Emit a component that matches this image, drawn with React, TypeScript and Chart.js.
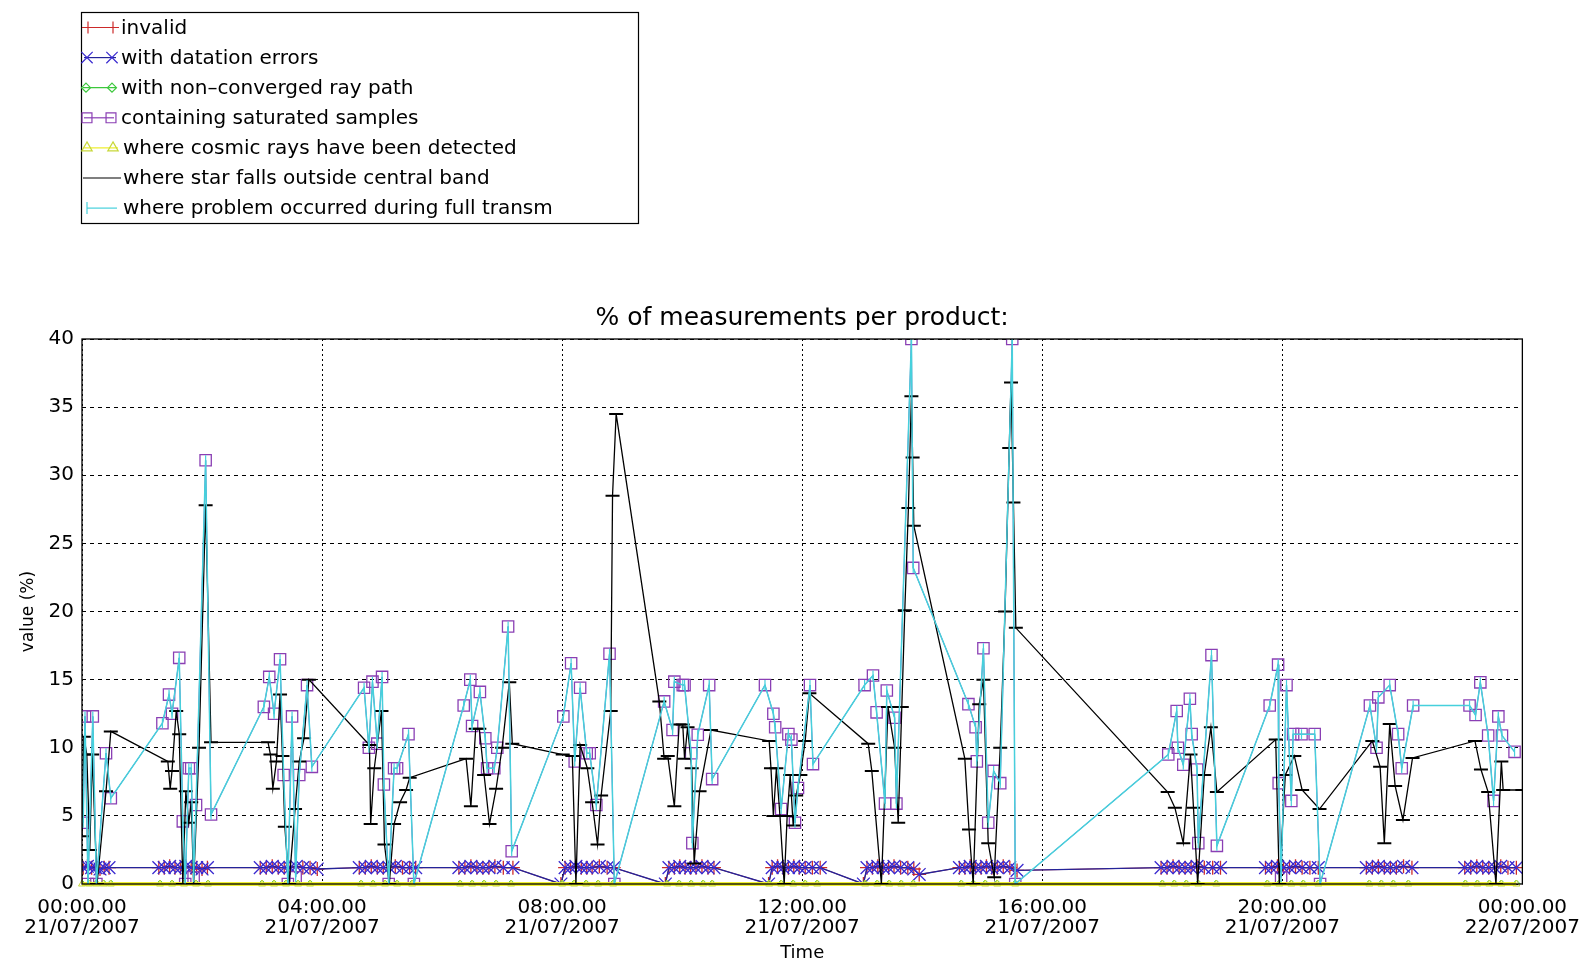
import React, { useEffect, useRef } from 'react';
import { Chart, registerables } from 'chart.js';

Chart.register(...registerables);

// ---------- data (time in hours of 21/07/2007, values in %) ----------
// "containing saturated samples" and "where problem occurred during full transm" share the same readings
const satTimes = [
  0.02, 0.05, 0.10, 0.18, 0.24, 0.40, 0.48,
  1.34, 1.45, 1.50, 1.62, 1.68, 1.72, 1.78, 1.82, 1.86, 1.90, 2.06, 2.15,
  3.03, 3.12, 3.20, 3.30, 3.36, 3.43, 3.50, 3.56, 3.62, 3.75, 3.83,
  4.70, 4.78, 4.84, 4.92, 5.00, 5.03, 5.11, 5.20, 5.25, 5.44, 5.53,
  6.36, 6.47, 6.50, 6.63, 6.72, 6.75, 6.87, 6.92, 7.10, 7.16,
  8.02, 8.15, 8.21, 8.30, 8.41, 8.46, 8.57, 8.79, 8.87,
  9.70, 9.84, 9.87, 10.01, 10.04, 10.15, 10.17, 10.26, 10.45, 10.50,
  11.38, 11.52, 11.55, 11.65, 11.77, 11.82, 11.88, 11.93, 12.13, 12.18,
  13.04, 13.18, 13.24, 13.38, 13.41, 13.54, 13.57, 13.82, 13.85,
  14.77, 14.89, 14.91, 15.02, 15.10, 15.19, 15.30, 15.50, 15.55,
  18.10, 18.24, 18.26, 18.35, 18.46, 18.49, 18.58, 18.60, 18.82, 18.91,
  19.79, 19.93, 19.94, 19.98, 20.07, 20.15, 20.18, 20.32, 20.54, 20.63,
  21.46, 21.57, 21.60, 21.79, 21.93, 21.99, 22.18,
  23.12, 23.22, 23.30, 23.43, 23.52, 23.60, 23.66, 23.87,
];
const satValues = [
  4.5, 12.3, 0, 12.3, 0, 9.6, 6.3,
  11.8, 13.9, 12.5, 16.6, 4.6, 0, 8.5, 8.5, 0.5, 5.8, 31.1, 5.1,
  13.0, 15.2, 12.5, 16.5, 8.0, 0, 12.3, 0.5, 8.0, 14.6, 8.6,
  14.4, 10.0, 14.85, 10.3, 15.2, 7.3, 0, 8.5, 8.5, 11.0, 0,
  13.1, 15.0, 11.6, 14.1, 10.7, 8.5, 8.5, 10.0, 18.9, 2.4,
  12.3, 16.2, 9.0, 14.4, 9.6, 9.6, 5.8, 16.9, 0,
  13.4, 11.3, 14.85, 14.6, 14.6, 9.6, 3.0, 10.95, 14.6, 7.7,
  14.6, 12.5, 11.5, 5.5, 11.0, 10.6, 4.5, 7.05, 14.6, 8.8,
  14.6, 15.3, 12.6, 5.9, 14.2, 12.2, 5.9, 40, 23.2,
  13.2, 11.5, 9.0, 17.3, 4.5, 8.3, 7.4, 40, 0,
  9.5, 12.7, 10.0, 8.75, 13.6, 11.0, 8.4, 3.0, 16.8, 2.8,
  13.1, 16.1, 7.4, 0.5, 14.6, 6.1, 11.0, 11.0, 11.0, 0,
  13.1, 10.0, 13.7, 14.6, 11.0, 8.5, 13.1,
  13.1, 12.4, 14.8, 10.9, 6.1, 12.3, 10.9, 9.7,
];

// "where star falls outside central band"
const starTimes = [
  0.00, 0.03, 0.08, 0.13, 0.17, 0.25, 0.40, 0.48,
  1.43, 1.47, 1.50, 1.57, 1.62, 1.68, 1.73, 1.78, 1.82, 1.86, 1.95, 2.06, 2.15,
  3.10, 3.14, 3.18, 3.24, 3.30, 3.34, 3.38, 3.45, 3.55, 3.62, 3.70, 3.78,
  4.79, 4.81, 4.87, 4.99, 5.04, 5.12, 5.20, 5.30, 5.40, 5.46,
  6.40, 6.48, 6.56, 6.62, 6.70, 6.79, 6.90, 7.00, 7.12, 7.17,
  8.01, 8.17, 8.23, 8.30, 8.42, 8.50, 8.59, 8.65, 8.81, 8.84, 8.90, 9.62,
  9.70, 9.76, 9.87, 9.95, 10.01, 10.04, 10.09, 10.16, 10.20, 10.29, 10.48,
  11.45, 11.48, 11.52, 11.57, 11.63, 11.70, 11.75, 11.80, 11.85, 11.90, 11.97, 12.05, 12.12,
  13.10, 13.16, 13.32, 13.43, 13.54, 13.60, 13.66, 13.71, 13.77, 13.82, 13.84, 13.86,
  14.71, 14.78, 14.85, 14.95, 15.02, 15.10, 15.20, 15.30, 15.38, 15.45, 15.48, 15.52, 15.56,
  18.09, 18.21, 18.35, 18.47, 18.52, 18.59, 18.70, 18.81, 18.91,
  19.89, 19.95, 20.05, 20.20, 20.33, 20.62,
  21.50, 21.63, 21.70, 21.79, 21.88, 22.01, 22.17,
  23.21, 23.31, 23.43, 23.56, 23.65, 23.68, 24.00,
];
const starValues = [
  3.5, 10.8, 9.5, 2.5, 9.5, 0, 6.8, 11.2,
  9.0, 7.0, 8.3, 12.7, 11.0, 0, 6.8, 4.5, 6.0, 0, 10.0, 27.8, 10.4,
  10.4, 9.5, 7.0, 9.0, 13.9, 9.4, 4.2, 0, 5.5, 9.0, 10.7, 15.0,
  10.2, 4.4, 8.5, 12.7, 2.9, 0, 4.4, 6.0, 6.9, 7.8,
  9.2, 5.7, 11.4, 11.4, 8.0, 4.4, 7.0, 10.0, 14.8, 10.3,
  9.5, 9.4, 0, 10.2, 8.5, 6.0, 2.9, 6.5, 12.7, 28.5, 34.5, 13.4,
  9.2, 9.4, 5.7, 11.7, 11.7, 9.2, 11.5, 8.5, 1.5, 6.8, 11.3,
  10.5, 8.5, 5.0, 8.5, 5.0, 0, 5.0, 8.0, 4.3, 6.5, 8.0, 10.5, 14.0,
  10.3, 8.3, 0, 13.0, 10.0, 4.5, 13.0, 20.1, 27.6, 35.8, 31.3, 26.3,
  9.2, 4.0, 0, 13.2, 15.0, 3.0, 0.5, 10.0, 20.0, 32.0, 36.8, 28.0, 18.8,
  6.75, 5.6, 3.0, 9.5, 5.6, 0, 8.0, 11.5, 6.75,
  10.6, 0, 8.0, 9.4, 6.9, 5.5,
  10.5, 8.6, 3.0, 11.75, 7.2, 4.7, 9.25,
  10.5, 8.4, 6.75, 0, 9.0, 6.9, 6.9,
];

// "with datation errors" and "invalid"
const datTimes = [
  0.02, 0.09, 0.16, 0.23, 0.30, 0.37, 0.45,
  1.28, 1.37, 1.46, 1.55, 1.64, 1.73, 1.82, 1.91, 2.00, 2.09,
  2.97, 3.07, 3.17, 3.27, 3.37, 3.47, 3.57, 3.68, 3.80, 3.92,
  4.62, 4.72, 4.82, 4.92, 5.02, 5.12, 5.22, 5.34, 5.46, 5.56,
  6.28, 6.38, 6.48, 6.58, 6.68, 6.78, 6.88, 7.02, 7.18,
  7.98, 8.05, 8.14, 8.23, 8.32, 8.41, 8.50, 8.62, 8.75, 8.86,
  9.72, 9.78, 9.87, 9.96, 10.05, 10.14, 10.23, 10.33, 10.43, 10.53,
  11.44, 11.50, 11.59, 11.68, 11.77, 11.86, 11.95, 12.05, 12.17, 12.30,
  13.02, 13.08, 13.17, 13.26, 13.35, 13.44, 13.53, 13.64, 13.76, 13.86, 13.95,
  14.62, 14.71, 14.80, 14.89, 14.98, 15.07, 15.16, 15.25, 15.35, 15.46, 15.58,
  17.98, 18.08, 18.18, 18.28, 18.38, 18.48, 18.58, 18.70, 18.84, 18.97,
  19.72, 19.82, 19.92, 20.02, 20.12, 20.22, 20.33, 20.46, 20.60,
  21.40, 21.50, 21.60, 21.70, 21.80, 21.90, 22.02, 22.16,
  23.04, 23.14, 23.24, 23.34, 23.44, 23.54, 23.64, 23.76, 23.90,
];
const datValues = [
  1.2, 1.3, 1.2, 1.2, 1.1, 1.2, 1.2,
  1.2, 1.2, 1.3, 1.2, 1.2, 1.3, 1.2, 1.2, 1.1, 1.2,
  1.2, 1.2, 1.3, 1.2, 1.2, 1.2, 1.3, 1.2, 1.2, 1.1,
  1.2, 1.2, 1.3, 1.2, 1.2, 1.2, 1.3, 1.2, 1.2, 1.2,
  1.2, 1.2, 1.3, 1.2, 1.2, 1.2, 1.3, 1.2, 1.2,
  0, 1.2, 1.2, 1.3, 1.2, 1.2, 1.2, 1.3, 1.2, 1.2,
  0, 1.2, 1.2, 1.3, 1.2, 1.2, 1.2, 1.3, 1.2, 1.2,
  0, 1.2, 1.3, 1.2, 1.2, 1.3, 1.2, 1.2, 1.2, 1.2,
  0, 1.2, 1.2, 1.3, 1.2, 1.2, 1.3, 1.2, 1.2, 1.1, 0.7,
  1.2, 1.2, 1.3, 1.2, 1.2, 1.3, 1.2, 1.2, 1.3, 1.2, 1.0,
  1.2, 1.2, 1.3, 1.2, 1.2, 1.2, 1.3, 1.2, 1.2, 1.2,
  1.2, 1.2, 1.3, 1.2, 1.2, 1.3, 1.2, 1.2, 1.2,
  1.2, 1.2, 1.3, 1.2, 1.2, 1.2, 1.3, 1.2,
  1.2, 1.2, 1.3, 1.2, 1.2, 1.2, 1.3, 1.2, 1.2,
];
const invalidValues = [
  1.2, 1.3, 1.2, 1.2, 1.1, 1.2, 1.2,
  1.2, 1.2, 1.3, 1.2, 1.2, 1.3, 1.2, 1.2, 1.1, 1.2,
  1.2, 1.2, 1.3, 1.2, 1.2, 1.2, 1.3, 1.2, 1.2, 1.1,
  1.2, 1.2, 1.3, 1.2, 1.2, 1.2, 1.3, 1.2, 1.2, 1.2,
  1.2, 1.2, 1.3, 1.2, 1.2, 1.2, 1.3, 1.2, 1.2,
  0, 1.2, 1.2, 1.3, 1.2, 1.2, 1.2, 1.3, 1.2, 1.2,
  0, 1.2, 1.2, 1.3, 1.2, 1.2, 1.2, 1.3, 1.2, 1.2,
  0, 1.2, 1.3, 1.2, 1.2, 1.3, 1.2, 1.2, 1.2, 1.2,
  0, 1.2, 1.2, 1.3, 1.2, 1.2, 1.3, 1.2, 1.2, 1.1, 0.7,
  1.2, 1.2, 1.3, 1.2, 1.2, 1.3, 1.2, 1.2, 1.3, 1.2, 1.0,
  1.2, 1.2, 1.3, 1.2, 1.2, 1.2, 1.3, 1.2, 1.2, 1.2,
  1.2, 1.2, 1.3, 1.2, 1.2, 1.3, 1.2, 1.2, 1.2,
  1.2, 1.2, 1.3, 1.2, 1.2, 1.2, 1.3, 1.2,
  1.2, 1.2, 1.3, 1.2, 1.2, 1.2, 1.3, 1.2, 1.2,
];

// "with non-converged ray path" and "where cosmic rays have been detected" (all zero)
const zeroTimes = [
  0.00, 0.12, 0.24, 0.36, 0.48,
  1.30, 1.50, 1.70, 1.90, 2.10,
  3.00, 3.20, 3.40, 3.60, 3.80,
  4.65, 4.85, 5.05, 5.25, 5.50,
  6.30, 6.50, 6.70, 6.90, 7.15,
  8.00, 8.20, 8.40, 8.60, 8.85,
  9.75, 9.95, 10.15, 10.35, 10.50,
  11.45, 11.65, 11.85, 12.05, 12.25,
  13.05, 13.25, 13.45, 13.65, 13.85,
  14.65, 14.85, 15.05, 15.25, 15.55,
  18.00, 18.20, 18.40, 18.60, 18.90,
  19.75, 19.95, 20.15, 20.35, 20.60,
  21.45, 21.65, 21.85, 22.10,
  23.05, 23.25, 23.45, 23.65, 23.90,
];
const nonconvValues = [
  0, 0, 0, 0, 0,  0, 0, 0, 0, 0,  0, 0, 0, 0, 0,  0, 0, 0, 0, 0,
  0, 0, 0, 0, 0,  0, 0, 0, 0, 0,  0, 0, 0, 0, 0,  0, 0, 0, 0, 0,
  0, 0, 0, 0, 0,  0, 0, 0, 0, 0,  0, 0, 0, 0, 0,  0, 0, 0, 0, 0,
  0, 0, 0, 0,  0, 0, 0, 0, 0,
];
const cosmicValues = [
  0, 0, 0, 0, 0,  0, 0, 0, 0, 0,  0, 0, 0, 0, 0,  0, 0, 0, 0, 0,
  0, 0, 0, 0, 0,  0, 0, 0, 0, 0,  0, 0, 0, 0, 0,  0, 0, 0, 0, 0,
  0, 0, 0, 0, 0,  0, 0, 0, 0, 0,  0, 0, 0, 0, 0,  0, 0, 0, 0, 0,
  0, 0, 0, 0,  0, 0, 0, 0, 0,
];

const seriesLabels = [
  'invalid',
  'with datation errors',
  'with non\u2013converged ray path',
  'containing saturated samples',
  'where cosmic rays have been detected',
  'where star falls outside central band',
  'where problem occurred during full transm',
];

const xTickTimes = ['00:00.00', '04:00.00', '08:00.00', '12:00.00', '16:00.00', '20:00.00', '00:00.00'];
const xTickDates = ['21/07/2007', '21/07/2007', '21/07/2007', '21/07/2007', '21/07/2007', '21/07/2007', '22/07/2007'];

const chartTitle = '% of measurements per product:';
const yTitle = 'value (%)';
const xTitle = 'Time';

// ---------- styling ----------
const FONT = "'DejaVu Sans', 'Liberation Sans', sans-serif";
const C_RED = '#cc2a2a';
const C_BLUE = '#24249a';
const C_BLUE_MARK = '#3a2ad0';
const C_GREEN = '#3cc83c';
const C_PURPLE = '#8a3fb4';
const C_YELLOW = '#eeee30';
const C_BLACK = '#000000';
const C_CYAN = '#46d0dc';

type Marker = { style: string; r: number; at: number[] };
const legendMarkers: Marker[] = [
  { style: 'cross', r: 6, at: [88, 113] },
  { style: 'crossRot', r: 8, at: [87, 112] },
  { style: 'rectRot', r: 4.5, at: [86, 112] },
  { style: 'rect', r: 7, at: [87, 111] },
  { style: 'triangle', r: 6, at: [87, 113] },
  { style: 'none', r: 0, at: [] },
  { style: 'vline', r: 6, at: [87] },
];
const legendLineSpan = [
  [83, 118], [84, 116], [83, 116], [84, 114], [84, 118], [83, 121], [87, 117],
];

const mk = (ts: number[], vs: number[]) => ts.map((t, i) => ({ x: t, y: vs[i] }));

function drawMarker(ctx: CanvasRenderingContext2D, style: string, x: number, y: number, r: number) {
  ctx.beginPath();
  if (style === 'cross') {
    ctx.moveTo(x - r, y); ctx.lineTo(x + r, y);
    ctx.moveTo(x, y - r); ctx.lineTo(x, y + r);
  } else if (style === 'crossRot') {
    const d = r * Math.SQRT1_2;
    ctx.moveTo(x - d, y - d); ctx.lineTo(x + d, y + d);
    ctx.moveTo(x - d, y + d); ctx.lineTo(x + d, y - d);
  } else if (style === 'rectRot') {
    ctx.moveTo(x, y - r); ctx.lineTo(x + r, y); ctx.lineTo(x, y + r); ctx.lineTo(x - r, y); ctx.closePath();
  } else if (style === 'rect') {
    const s = r * Math.SQRT1_2;
    ctx.rect(x - s, y - s, 2 * s, 2 * s);
  } else if (style === 'triangle') {
    ctx.moveTo(x, y - r); ctx.lineTo(x + r * 0.866, y + r * 0.5); ctx.lineTo(x - r * 0.866, y + r * 0.5); ctx.closePath();
  } else if (style === 'vline') {
    ctx.moveTo(x, y - r); ctx.lineTo(x, y + r);
  }
  ctx.stroke();
}

const boxLegendPlugin = {
  id: 'boxLegend',
  afterDraw(chart: any) {
    const ctx: CanvasRenderingContext2D = chart.ctx;
    const { left, top, right, bottom } = chart.chartArea;
    ctx.save();
    // plot frame
    ctx.strokeStyle = '#000';
    ctx.lineWidth = 1.3;
    ctx.strokeRect(left, top, right - left, bottom - top);
    // legend frame
    ctx.lineWidth = 1.2;
    ctx.strokeRect(81.5, 12.5, 557, 211);
    chart.data.datasets.forEach((ds: any, i: number) => {
      const y = 27.5 + i * 30.1;
      const [x0, x1] = legendLineSpan[i];
      ctx.strokeStyle = ds.borderColor;
      ctx.lineWidth = 1.2;
      ctx.beginPath();
      ctx.moveTo(x0, y);
      ctx.lineTo(x1, y);
      ctx.stroke();
      const m = legendMarkers[i];
      ctx.strokeStyle = ds.pointBorderColor || ds.borderColor;
      m.at.forEach((mx) => drawMarker(ctx, m.style, mx, y, m.r));
      ctx.fillStyle = '#000';
      ctx.font = `20px ${FONT}`;
      ctx.textBaseline = 'middle';
      ctx.textAlign = 'left';
      ctx.fillText(ds.label, i < 4 ? 121 : 123, y + 1);
    });
    ctx.restore();
  },
};

export default function App() {
  const ref = useRef<HTMLCanvasElement | null>(null);
  useEffect(() => {
    if (!ref.current) return;
    const chart = new Chart(ref.current, {
      type: 'line',
      data: {
        datasets: [
          {
            label: seriesLabels[0], data: mk(datTimes, invalidValues), order: 7,
            borderColor: C_RED, borderWidth: 1, pointStyle: 'cross', pointRadius: 7,
            pointBorderColor: C_RED, pointBorderWidth: 1.3, pointBackgroundColor: 'transparent',
          },
          {
            label: seriesLabels[1], data: mk(datTimes, datValues), order: 6,
            borderColor: C_BLUE, borderWidth: 1.4, pointStyle: 'crossRot', pointRadius: 9,
            pointBorderColor: C_BLUE_MARK, pointBorderWidth: 1.3, pointBackgroundColor: 'transparent',
          },
          {
            label: seriesLabels[2], data: mk(zeroTimes, nonconvValues), order: 5,
            borderColor: C_GREEN, borderWidth: 1, pointStyle: 'rectRot', pointRadius: 4,
            pointBorderColor: C_GREEN, pointBorderWidth: 1, pointBackgroundColor: 'transparent',
          },
          {
            label: seriesLabels[3], data: mk(satTimes, satValues), order: 4,
            borderColor: C_PURPLE, borderWidth: 1, pointStyle: 'rect', pointRadius: 8,
            pointBorderColor: C_PURPLE, pointBorderWidth: 1.3, pointBackgroundColor: 'transparent',
          },
          {
            label: seriesLabels[4], data: mk(zeroTimes, cosmicValues), order: 3, clip: 6,
            borderColor: C_YELLOW, borderWidth: 4, pointStyle: 'triangle', pointRadius: 4,
            pointBorderColor: '#c8d83a', pointBorderWidth: 1, pointBackgroundColor: 'transparent',
          },
          {
            label: seriesLabels[5], data: mk(starTimes, starValues), order: 2,
            borderColor: C_BLACK, borderWidth: 1.3, pointStyle: 'line', pointRadius: 7,
            pointBorderColor: C_BLACK, pointBorderWidth: 2,
          },
          {
            label: seriesLabels[6], data: mk(satTimes, satValues), order: 1,
            borderColor: C_CYAN, borderWidth: 1.5, pointStyle: 'line', pointRotation: 90, pointRadius: 5,
            pointBorderColor: C_CYAN, pointBorderWidth: 1.2,
          },
        ],
      },
      options: {
        responsive: false,
        animation: false,
        events: [],
        layout: { padding: { top: 303, left: 18, right: 68, bottom: 0 } },
        elements: { line: { tension: 0 } },
        plugins: {
          legend: { display: false },
          tooltip: { enabled: false },
          title: {
            display: true,
            text: chartTitle,
            color: '#000',
            fullSize: false,
            font: { family: FONT, size: 25, weight: 'normal', lineHeight: 1.2 },
            padding: { top: 0, bottom: 6 },
          },
        },
        scales: {
          x: {
            type: 'linear',
            min: 0,
            max: 24,
            afterFit: (s: any) => { s.height = 80; },
            ticks: {
              stepSize: 4,
              autoSkip: false,
              maxRotation: 0,
              color: '#000',
              padding: 14,
              font: { family: FONT, size: 20, lineHeight: 1.0 },
              callback: (v: any) => {
                const i = Math.round(Number(v) / 4);
                return [xTickTimes[i], xTickDates[i]];
              },
            },
            grid: { color: '#000', lineWidth: 1, drawTicks: false },
            border: { display: false, dash: [2, 3] },
            title: { display: true, text: xTitle, color: '#000', font: { family: FONT, size: 18, lineHeight: 1.2 }, padding: 0 },
          },
          y: {
            type: 'linear',
            min: 0,
            max: 40,
            afterFit: (s: any) => { s.width = 64; },
            ticks: { stepSize: 5, color: '#000', padding: 8, font: { family: FONT, size: 20 } },
            grid: { color: '#000', lineWidth: 1, drawTicks: false },
            border: { display: false, dash: [4, 4] },
            title: { display: true, text: yTitle, color: '#000', font: { family: FONT, size: 17, lineHeight: 1.2 }, padding: 0 },
          },
        },
      },
      plugins: [boxLegendPlugin],
    } as any);
    return () => chart.destroy();
  }, []);

  return (
    <div style={{ position: 'absolute', left: 0, top: 0, width: 1594, height: 964, background: '#fff' }}>
      <canvas ref={ref} width={1594} height={964} style={{ display: 'block', width: 1594, height: 964 }} />
    </div>
  );
}
